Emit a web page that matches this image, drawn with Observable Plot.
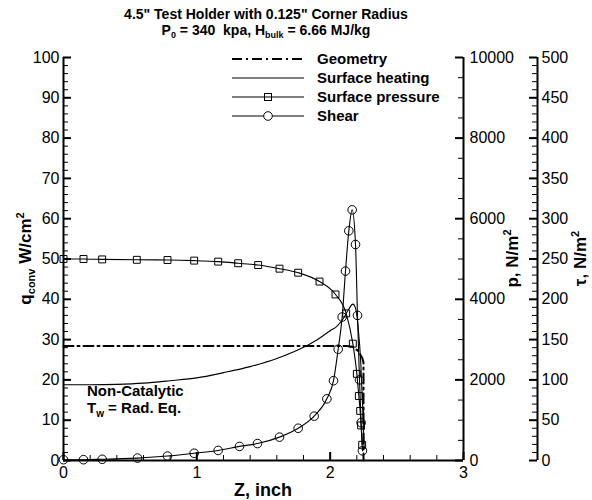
<!DOCTYPE html>
<html><head><meta charset="utf-8">
<script src="https://cdn.jsdelivr.net/npm/d3@7"></script>
<script src="https://cdn.jsdelivr.net/npm/@observablehq/plot@0.6"></script>
<style>
body{margin:0;background:#fff;font-family:"Liberation Sans",Arial,Helvetica,sans-serif;}
#title{width:532px;height:42px;box-sizing:border-box;padding-top:6px;text-align:center;font-weight:bold;font-size:14px;line-height:16px;color:#000;}
#title sub{font-size:9px;vertical-align:-3px;line-height:0}
</style></head><body>
<div id="title">4.5" Test Holder with 0.125" Corner Radius<br>P<sub>0</sub> = 340&nbsp; kpa, H<sub>bulk</sub> = 6.66 MJ/kg</div>
<div id="chart"></div>
<script>
// ---------- data ----------
const zTicks = [0, 1, 2, 3];
const zMinorTicks = [0.2,0.4,0.6,0.8,1.2,1.4,1.6,1.8,2.2,2.4,2.6,2.8];
const qTicks = [0,10,20,30,40,50,60,70,80,90,100];
const pTicks = [0,2000,4000,6000,8000,10000];
const tauTicks = [0,50,100,150,200,250,300,350,400,450,500];

const geometryZ = [0, 2.125, 2.17, 2.21, 2.24, 2.25, 2.25];
const geometryQ = [28.4, 28.4, 28.2, 27.2, 25.5, 24.3, 0];

const heatingZ = [0,0.2,0.4,0.6,0.8,1.0,1.2,1.4,1.6,1.8,1.9,2.0,2.05,2.1,2.14,2.17,2.19,2.21,2.23,2.245,2.255];
const heatingQ = [18.8,18.8,18.9,19.2,19.8,20.5,21.8,23.3,25.3,28.1,29.9,32.2,33.3,35.3,37.6,38.8,37.8,33,24,12,3];

const pressureZ = [0,0.15,0.29,0.55,0.78,0.98,1.16,1.31,1.46,1.62,1.76,1.92,2.04,2.12,2.17,2.2,2.215,2.225,2.232,2.24];
const pressureP = [5000,5000,4990,4980,4975,4960,4935,4895,4850,4760,4660,4440,4120,3650,2900,2150,1600,1230,870,390];

const shearZ = [0,0.15,0.29,0.555,0.78,0.98,1.16,1.32,1.455,1.62,1.76,1.88,1.975,2.025,2.06,2.09,2.115,2.14,2.165,2.19,2.205,2.22,2.232,2.242];
const shearTau = [1,1,1.5,3,5.5,9,12.5,17.5,21,29,40,55,76.5,99,138,178,235,285,311,268,180,100,47,12];

const legendLabels = ["Geometry","Surface heating","Surface pressure","Shear"];
const noteZ = 0.18, noteQ = [17, 13];

// ---------- layout ----------
const W = 592, H = 458, mL = 63, mR = 129, mT = 15, mB = 40;
const frameW = W - mL - mR, frameH = H - mT - mB;
const tauOffset = 74;
const P_PER_Q = 100, TAU_PER_Q = 5;

const geometry = geometryZ.map((z,i)=>({z, q: geometryQ[i]}));
const heating = heatingZ.map((z,i)=>({z, q: heatingQ[i]}));
const pressure = pressureZ.map((z,i)=>({z, p: pressureP[i]}));
const shear = shearZ.map((z,i)=>({z, t: shearTau[i]}));
const minorOf = (step, max, major) => d3.range(0, max + step/2, step).filter(v => Math.abs(v/major - Math.round(v/major)) > 1e-6);

const plot = Plot.plot({
  width: W, height: H,
  marginLeft: mL, marginRight: mR, marginTop: mT, marginBottom: mB,
  x: {domain: [0, 3]},
  y: {domain: [0, 100]},
  style: {fontFamily: '"Liberation Sans", Arial, sans-serif', fontSize: "16px", color: "#000", overflow: "visible"},
  marks: [
    Plot.ruleX([0], {strokeWidth: 2}),
    Plot.ruleX([3], {strokeWidth: 2}),
    Plot.ruleY([0], {strokeWidth: 2}),
    Plot.ruleX([3], {y1: 0, y2: 100, dx: tauOffset, strokeWidth: 2}),
    Plot.tickY(qTicks, {y: d => d, insetRight: frameW - 8, strokeWidth: 2}),
    Plot.tickY(minorOf(2, 100, 10), {y: d => d, insetRight: frameW - 5, strokeWidth: 1}),
    Plot.tickY(pTicks, {y: d => d / P_PER_Q, insetLeft: frameW - 8, strokeWidth: 2}),
    Plot.tickY(minorOf(500, 10000, 2000), {y: d => d / P_PER_Q, insetLeft: frameW - 5, strokeWidth: 1}),
    Plot.tickY(tauTicks, {y: d => d / TAU_PER_Q, insetLeft: frameW + tauOffset - 8, insetRight: -tauOffset, strokeWidth: 2}),
    Plot.tickY(minorOf(10, 500, 50), {y: d => d / TAU_PER_Q, insetLeft: frameW + tauOffset - 5, insetRight: -tauOffset, strokeWidth: 1}),
    Plot.tickX(zTicks, {x: d => d, insetTop: frameH - 8, strokeWidth: 2}),
    Plot.tickX(zMinorTicks, {x: d => d, insetTop: frameH - 5, strokeWidth: 1}),
    Plot.axisX(zTicks, {anchor: "bottom", tickSize: 0, tickPadding: 6, tickFormat: d => String(d), label: null}),
    Plot.axisY(qTicks, {anchor: "left", tickSize: 0, tickPadding: 4, tickFormat: d => String(d), label: null}),
    Plot.axisY(pTicks.map(d => d / P_PER_Q), {anchor: "right", tickSize: 0, tickPadding: 6, tickFormat: d => String(Math.round(d * P_PER_Q)), label: null}),
    Plot.axisY(tauTicks.map(d => d / TAU_PER_Q), {anchor: "right", tickSize: 0, tickPadding: 4, dx: tauOffset, tickFormat: d => String(Math.round(d * TAU_PER_Q)), label: null}),
    Plot.line(geometry, {x: "z", y: "q", stroke: "black", strokeWidth: 2, strokeDasharray: "10,4,2,4"}),
    Plot.line(heating, {x: "z", y: "q", stroke: "black", strokeWidth: 1.1, curve: "monotone-x"}),
    Plot.line(pressure, {x: "z", y: d => d.p / P_PER_Q, stroke: "black", strokeWidth: 1.1, curve: "monotone-x"}),
    Plot.dot(pressure, {x: "z", y: d => d.p / P_PER_Q, symbol: "square", r: 3.9, stroke: "black", fill: "none", strokeWidth: 1}),
    Plot.line(shear, {x: "z", y: d => d.t / TAU_PER_Q, stroke: "black", strokeWidth: 1.1, curve: "monotone-x"}),
    Plot.dot(shear, {x: "z", y: d => d.t / TAU_PER_Q, symbol: "circle", r: 4.3, stroke: "black", fill: "none", strokeWidth: 1})
  ]
});
document.getElementById("chart").appendChild(plot);

const svg = d3.select(plot);
const xs = plot.scale("x"), ys = plot.scale("y");
const midY = mT + frameH / 2;

function rotLabel(x, parts) {
  const t = svg.append("text").attr("transform", `translate(${x},${midY}) rotate(-90)`)
    .attr("text-anchor", "middle").attr("font-weight", "bold").attr("font-size", 17).attr("fill", "black");
  parts.forEach(([s, fs, dy]) => t.append("tspan").attr("font-size", fs).attr("dy", dy).text(s));
}
rotLabel(31, [["q",17,0],["conv",11,4],[" W/cm",17,-4],["2",11,-7]]);
rotLabel(518, [["p, N/m",17,0],["2",11,-7]]);
rotLabel(586, [["\u03c4, N/m",17,0],["2",11,-7]]);

svg.append("text").attr("x", mL + frameW / 2).attr("y", H - 4).attr("text-anchor", "middle")
  .attr("font-weight", "bold").attr("font-size", 18).text("Z, inch");

const nx = xs.apply(noteZ);
svg.append("text").attr("x", nx).attr("y", ys.apply(noteQ[0]) + 5).attr("text-anchor", "start").attr("font-weight", "bold").attr("font-size", 15).text("Non-Catalytic");
const t2 = svg.append("text").attr("x", nx).attr("y", ys.apply(noteQ[1]) + 5).attr("text-anchor", "start").attr("font-weight", "bold").attr("font-size", 15);
t2.append("tspan").text("T");
t2.append("tspan").attr("font-size", 10).attr("dy", 4).text("w");
t2.append("tspan").attr("dy", -4).text(" = Rad. Eq.");

const lx1 = 232, lx2 = 304, ltx = 317, lrow0 = 17, lstep = 19;
legendLabels.forEach((lab, i) => {
  const y = lrow0 + i * lstep;
  const g = svg.append("g");
  const ln = g.append("line").attr("x1", lx1).attr("x2", lx2).attr("y1", y).attr("y2", y).attr("stroke", "black")
    .attr("stroke-width", i === 0 ? 2 : 1.1);
  if (i === 0) ln.attr("stroke-dasharray", "10,4,2,4");
  const cx = (lx1 + lx2) / 2;
  if (i === 2) g.append("rect").attr("x", cx - 3.5).attr("y", y - 3.5).attr("width", 7).attr("height", 7).attr("fill", "none").attr("stroke", "black");
  if (i === 3) g.append("circle").attr("cx", cx).attr("cy", y).attr("r", 4.3).attr("fill", "white").attr("stroke", "black");
  g.append("text").attr("x", ltx).attr("y", y + 5).attr("text-anchor", "start").attr("font-weight", "bold").attr("font-size", 15).text(lab);
});
</script></body></html>
